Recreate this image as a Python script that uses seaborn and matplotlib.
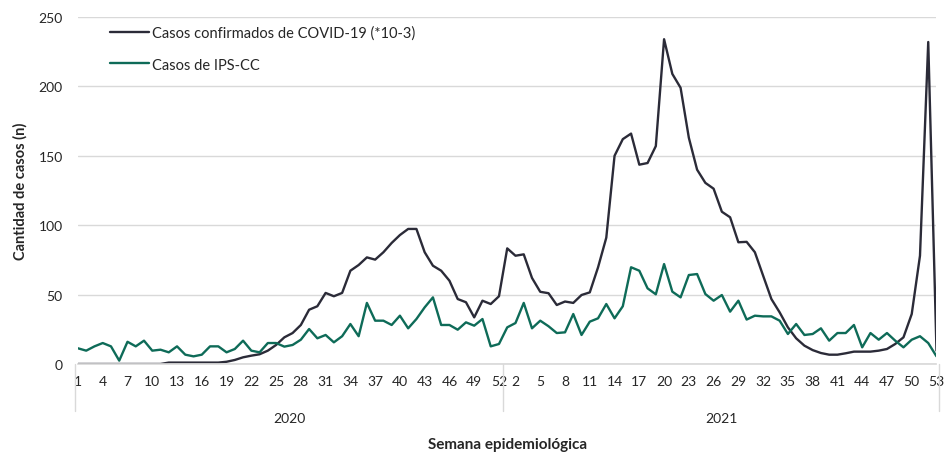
import pandas as pd
import matplotlib
matplotlib.use("Agg")
import matplotlib.pyplot as plt
import matplotlib.transforms as mtransforms
import seaborn as sns

# semanas epidemiologicas por año
years = ["2020", "2021"]
weeks_2020 = list(range(1, 53))
weeks_2021 = list(range(1, 54))

# casos confirmados de COVID-19 (*10-3)
covid_2020 = [0, 0, 0, 0, 0, 0, 0, 0, 0, 0, 0,
              1, 1, 1, 1, 1, 1, 1,
              1.6, 2.9, 4.8, 6, 7, 9.6, 13.7,
              19.2, 22.3, 28.1, 39.1, 41.6, 51.2, 48.8, 51.2, 67.2, 71.3,
              76.8, 75.2, 80.5, 87.2, 92.9, 97.3, 97.3, 80.5, 70.8, 67.2,
              60, 46.8, 44.5, 33.6, 45.6, 43.2, 48.8]
covid_2021 = [83.3, 78, 79, 62, 52, 51, 42.5, 45, 44, 49.7,
              51.6, 69.6, 91, 150, 162, 166, 143.6, 144.8, 157, 234,
              209, 199, 163, 140, 130.5, 126.3, 109.7, 105.7, 87.7, 88,
              80.5, 63.6, 46.8, 37.2, 26.4, 18.5, 13.2, 10, 7.9, 6.7,
              6.7, 7.7, 8.9, 8.9, 8.9, 9.6, 10.8, 14.4, 19.2, 36,
              78, 232, 9.6]

# casos de IPS-CC
ips_2020 = [11.3, 9.6, 12.7, 15.1, 12.7, 2.4, 16, 12.7, 16.8, 9.6,
            10.3, 8.4, 12.7, 6.7, 5.5, 6.7, 12.7, 12.7, 8.4, 10.8,
            16.8, 9.6, 8.4, 15.1, 15.1,
            12.5, 13.7, 17.5, 25.2, 18.5, 20.9, 15.6, 20, 28.8, 20,
            44, 31.2, 31.2, 28.1, 34.8, 25.7, 32.4, 40.8, 48, 28.1,
            28.1, 24.7, 30, 27.6, 32.4, 12.7, 14.4]
ips_2021 = [26.4, 29.5, 44, 25.7, 31.2, 27.2, 22.3, 22.8, 36, 20.9,
            30.5, 32.9, 43.2, 32.9, 41.6, 69.7, 67.2, 54.5, 50.2, 72,
            52.1, 48, 64.1, 64.8, 50.4, 45.6, 49.7, 37.7, 45.6, 32,
            34.8, 34.3, 34.3, 31.2, 21.6, 28.8, 20.9, 21.6, 25.7, 16.8,
            22.3, 22.3, 28.1, 12, 22.3, 17.5, 22.3, 16.8, 12, 17.5,
            20, 15.1, 5.5]

series_names = ["Casos confirmados de COVID-19 (*10-3)", "Casos de IPS-CC"]
colors = ["#2b2b38", "#0e6b58"]

n20 = len(weeks_2020)
pos = list(range(n20 + len(weeks_2021)))
df = pd.DataFrame({
    "pos": pos * 2,
    "casos": covid_2020 + covid_2021 + ips_2020 + ips_2021,
    "serie": [series_names[0]] * len(pos) + [series_names[1]] * len(pos),
})

sns.set_theme(style="white")
plt.rcParams["font.family"] = ["Lato", "DejaVu Sans"]

fig, ax = plt.subplots(figsize=(9.45, 4.56), dpi=100)
fig.subplots_adjust(left=0.0825, right=0.991, top=0.9605, bottom=0.1996)

sns.lineplot(data=df, x="pos", y="casos", hue="serie", palette=colors,
             linewidth=1.7, ax=ax)

# etiquetas de semana cada 3
tick_pos = [i for i, w in enumerate(weeks_2020) if (w - 1) % 3 == 0] + \
           [n20 + i for i, w in enumerate(weeks_2021) if (w - 2) % 3 == 0]
tick_lab = [str(w) for w in weeks_2020 if (w - 1) % 3 == 0] + \
           [str(w) for w in weeks_2021 if (w - 2) % 3 == 0]
ax.set_xticks(tick_pos)
ax.set_xticklabels(tick_lab)
ax.set_xlim(0, len(pos) - 1)
ax.set_ylim(0, 250)
ax.set_yticks(range(0, 251, 50))

ax.yaxis.grid(True, color="#d9d9d9", linewidth=1)
ax.xaxis.grid(False)
for s in ["top", "right", "left"]:
    ax.spines[s].set_visible(False)
ax.spines["bottom"].set_color("#d9d9d9")
ax.tick_params(axis="x", length=0, pad=8, labelsize=10, labelcolor="#262626")
ax.tick_params(axis="y", length=0, pad=11, labelsize=10, labelcolor="#262626")

# eje de categorias por año
trans = mtransforms.blended_transform_factory(ax.transData, ax.transAxes)
bounds = [-0.3, n20 - 0.5, len(pos) - 0.7]
for xv in bounds:
    ax.plot([xv, xv], [0, -0.135], transform=trans, color="#d9d9d9",
            linewidth=1, clip_on=False)
for i, yr in enumerate(years):
    ax.text((bounds[i] + bounds[i + 1]) / 2, -0.155, yr, transform=trans,
            ha="center", va="center", fontsize=10, color="#262626")

ax.set_xlabel("Semana epidemiológica", fontsize=11, fontweight="bold")
ax.xaxis.set_label_coords(0.5, -0.21)
ax.set_ylabel("Cantidad de casos (n)", fontsize=10.5, fontweight="bold")
ax.yaxis.set_label_coords(-0.059, 0.5)

ax.legend(title=None, loc="upper left", bbox_to_anchor=(0.037, 0.975),
          frameon=False, fontsize=10.5, handlelength=2.7, handletextpad=0.2,
          labelspacing=1.2, borderpad=0, borderaxespad=0)

fig.savefig("out.png", dpi=100)
